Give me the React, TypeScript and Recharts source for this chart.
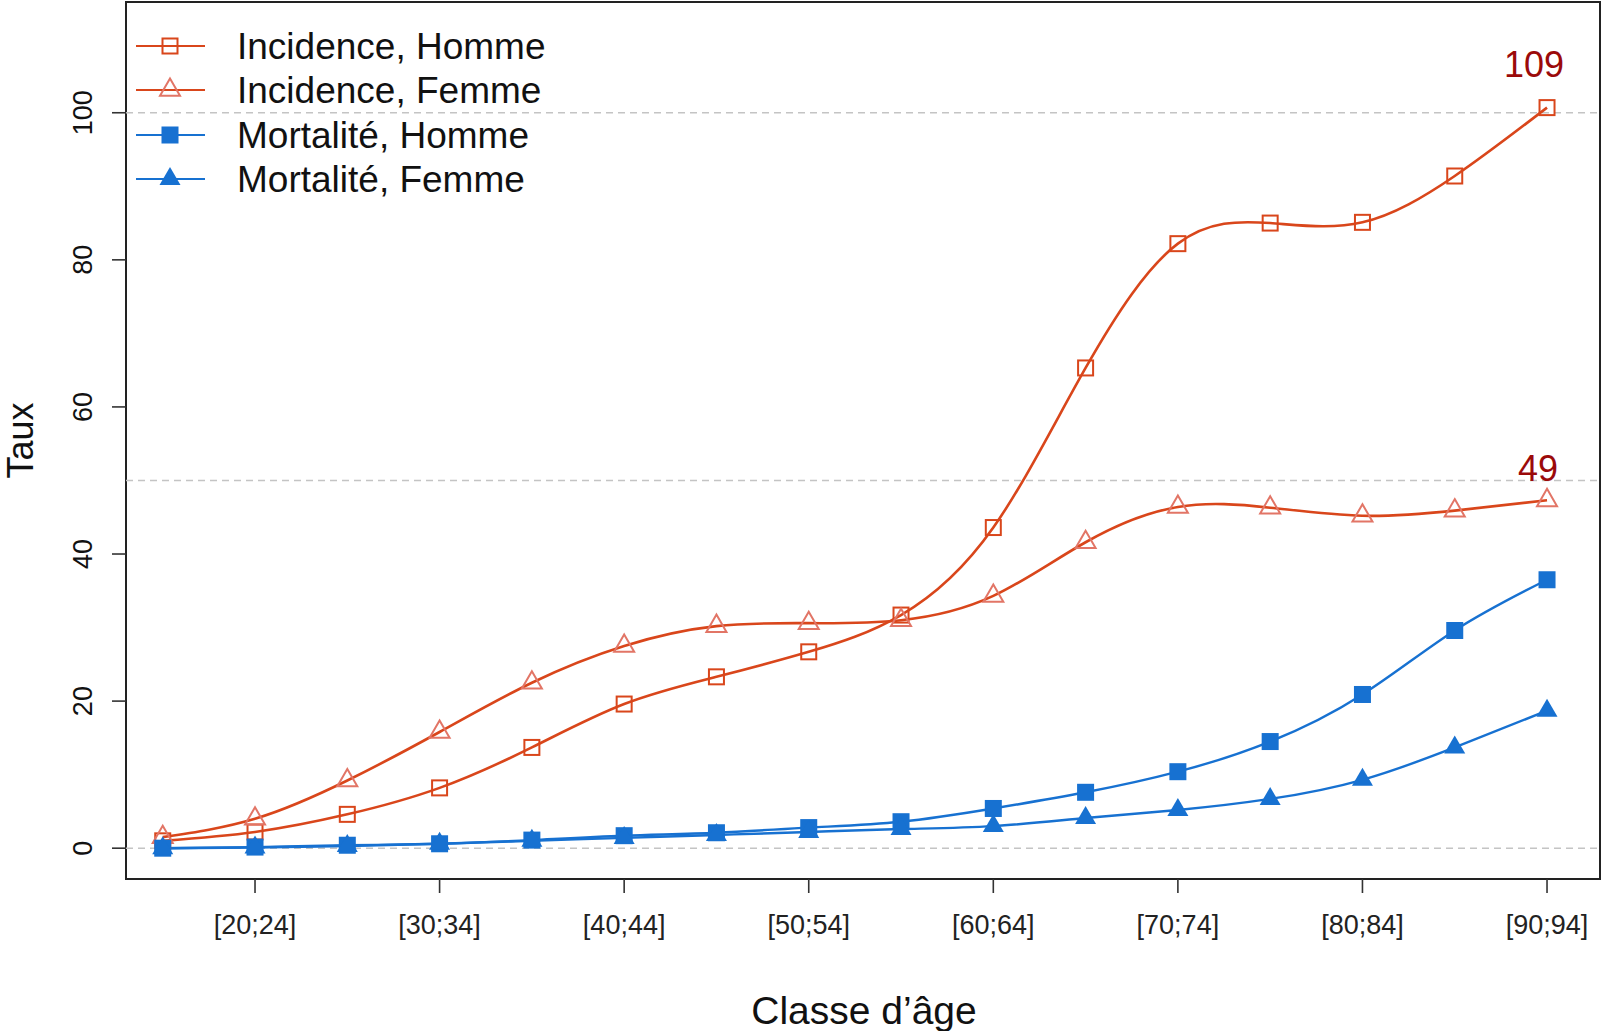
import React from "react";
import { LineChart, Line, XAxis, YAxis, ReferenceLine, ReferenceArea, Legend } from "recharts";

// age classes, one point per class
const categories = [
  "[15;19]", "[20;24]", "[25;29]", "[30;34]", "[35;39]", "[40;44]", "[45;49]", "[50;54]",
  "[55;59]", "[60;64]", "[65;69]", "[70;74]", "[75;79]", "[80;84]", "[85;89]", "[90;94]",
];

const incidenceHomme = [1.0, 2.2, 4.6, 8.2, 13.7, 19.6, 23.3, 26.7, 31.7, 43.6, 65.3, 82.2, 85.0, 85.1, 91.4, 100.7];
const incidenceFemme = [1.5, 4.0, 9.2, 15.8, 22.5, 27.5, 30.2, 30.6, 31.0, 34.3, 41.6, 46.4, 46.3, 45.2, 45.9, 47.3];
const mortaliteHomme = [0, 0.15, 0.4, 0.6, 1.1, 1.7, 2.1, 2.8, 3.6, 5.4, 7.6, 10.4, 14.5, 20.9, 29.6, 36.5];
const mortaliteFemme = [0, 0.1, 0.3, 0.6, 1.0, 1.4, 1.8, 2.2, 2.6, 3.0, 4.1, 5.2, 6.7, 9.3, 13.7, 18.7];

// only every other class gets a tick label
const xTicks = [1, 3, 5, 7, 9, 11, 13, 15];
const yTicks = [0, 20, 40, 60, 80, 100];
const refLines = [0, 50, 100];
const maxLabels = [
  { y: 100, text: "109", dx: -66, dy: -36 },
  { y: 50, text: "49", dx: -62, dy: 1 },
];

const series = [
  { key: "ih", name: "Incidence, Homme", values: incidenceHomme },
  { key: "if", name: "Incidence, Femme", values: incidenceFemme },
  { key: "mh", name: "Mortalité, Homme", values: mortaliteHomme },
  { key: "mf", name: "Mortalité, Femme", values: mortaliteFemme },
];

const data = categories.map((cat, i) => {
  const row: any = { idx: i, cat };
  series.forEach((s) => (row[s.key] = s.values[i]));
  return row;
});

const RED = "#d9461b";
const RED_LIGHT = "#e27566";
const BLUE = "#1771d1";
const FONT = "'Liberation Sans', Arial, sans-serif";

function marker(kind: string, cx: number, cy: number, key?: any) {
  if (kind === "ih")
    return <rect key={key} x={cx - 7.5} y={cy - 7.5} width={15} height={15} fill="none" stroke={RED} strokeWidth={2} />;
  if (kind === "if")
    return (
      <polygon key={key} points={`${cx},${cy - 11.5} ${cx + 10},${cy + 5.8} ${cx - 10},${cy + 5.8}`}
        fill="none" stroke={RED_LIGHT} strokeWidth={2} />
    );
  if (kind === "mh")
    return <rect key={key} x={cx - 8.5} y={cy - 8.5} width={17} height={17} fill={BLUE} />;
  return (
    <polygon key={key} points={`${cx},${cy - 12} ${cx + 10.5},${cy + 6} ${cx - 10.5},${cy + 6}`} fill={BLUE} />
  );
}

const dotFor = (kind: string) => (p: any) => marker(kind, p.cx, p.cy, `${kind}-${p.index}`);

const YTick = ({ x, y, payload }: any) => (
  <text x={x - 18} y={y} transform={`rotate(-90, ${x - 18}, ${y})`} textAnchor="middle"
    fontSize={27} fontFamily={FONT} fill="#111">
    {payload.value}
  </text>
);

const XTick = ({ x, y, payload }: any) => (
  <text x={x} y={y + 39} textAnchor="middle" fontSize={27} fontFamily={FONT} fill="#222">
    {categories[payload.value]}
  </text>
);

function LegendBox() {
  const rows = [46, 90, 135, 179];
  return (
    <svg width={580} height={210} style={{ display: "block" }}>
      {series.map((s, i) => (
        <g key={s.key}>
          <line x1={136} x2={205} y1={rows[i]} y2={rows[i]} stroke={i < 2 ? RED : BLUE} strokeWidth={2} />
          {marker(s.key, 170, rows[i])}
          <text x={237} y={rows[i] + 13} fontSize={37} fontFamily={FONT} fill="#111">
            {s.name}
          </text>
        </g>
      ))}
    </svg>
  );
}

export default function App() {
  return (
    <div style={{ position: "absolute", left: 0, top: 0, background: "#fff" }}>
      <LineChart width={1604} height={1031} data={data} margin={{ top: 2, right: 4, left: 0, bottom: 52 }}>
        <XAxis
          type="number"
          dataKey="idx"
          domain={[-0.398, 15.574]}
          ticks={xTicks}
          allowDataOverflow
          axisLine={false}
          tickSize={14}
          tickLine={{ stroke: "#333", strokeWidth: 1.6 }}
          tick={<XTick />}
          height={100}
          label={(p: any) => {
            const vb = p.viewBox || {};
            return (
              <text x={vb.x + vb.width / 2 + 1} y={vb.y + 145} textAnchor="middle" fontSize={39} fontFamily={FONT} fill="#111">
                Classe d’âge
              </text>
            );
          }}
        />
        <YAxis
          type="number"
          domain={[-4.19, 115.06]}
          ticks={yTicks}
          allowDataOverflow
          axisLine={false}
          tickSize={14}
          tickLine={{ stroke: "#333", strokeWidth: 1.6 }}
          tick={<YTick />}
          width={126}
          label={(p: any) => {
            const vb = p.viewBox || {};
            const cy = vb.y + vb.height / 2;
            return (
              <text x={33} y={cy} transform={`rotate(-90, 33, ${cy})`} textAnchor="middle" fontSize={36} fontFamily={FONT} fill="#111">
                Taux
              </text>
            );
          }}
        />
        {refLines.map((v) => (
          <ReferenceLine key={v} y={v} stroke="#c4c4c4" strokeWidth={1.6} strokeDasharray="7 5" />
        ))}
        {maxLabels.map((m) => (
          <ReferenceLine
            key={`lab-${m.text}`}
            y={m.y}
            stroke="none"
            label={(p: any) => {
              const vb = p.viewBox || {};
              return (
                <text x={vb.x + vb.width + m.dx} y={vb.y + m.dy} textAnchor="middle"
                  fontSize={36} fontFamily={FONT} fill="#9b0a0a">
                  {m.text}
                </text>
              );
            }}
          />
        ))}
        <ReferenceArea x1={-0.398} x2={15.574} y1={-4.19} y2={115.06} fill="none" fillOpacity={0}
          stroke="#222" strokeWidth={2} />
        <Line type="natural" dataKey="ih" name="Incidence, Homme" stroke={RED} strokeWidth={2.6}
          dot={dotFor("ih")} isAnimationActive={false} />
        <Line type="natural" dataKey="if" name="Incidence, Femme" stroke={RED} strokeWidth={2.6}
          dot={dotFor("if")} isAnimationActive={false} />
        <Line type="natural" dataKey="mh" name="Mortalité, Homme" stroke={BLUE} strokeWidth={2.4}
          dot={dotFor("mh")} isAnimationActive={false} />
        <Line type="natural" dataKey="mf" name="Mortalité, Femme" stroke={BLUE} strokeWidth={2.4}
          dot={dotFor("mf")} isAnimationActive={false} />
        <Legend layout="vertical" align="center" verticalAlign="middle"
          wrapperStyle={{ left: 0, top: 0, width: 580, height: 210 }} content={() => <LegendBox />} />
      </LineChart>
    </div>
  );
}
